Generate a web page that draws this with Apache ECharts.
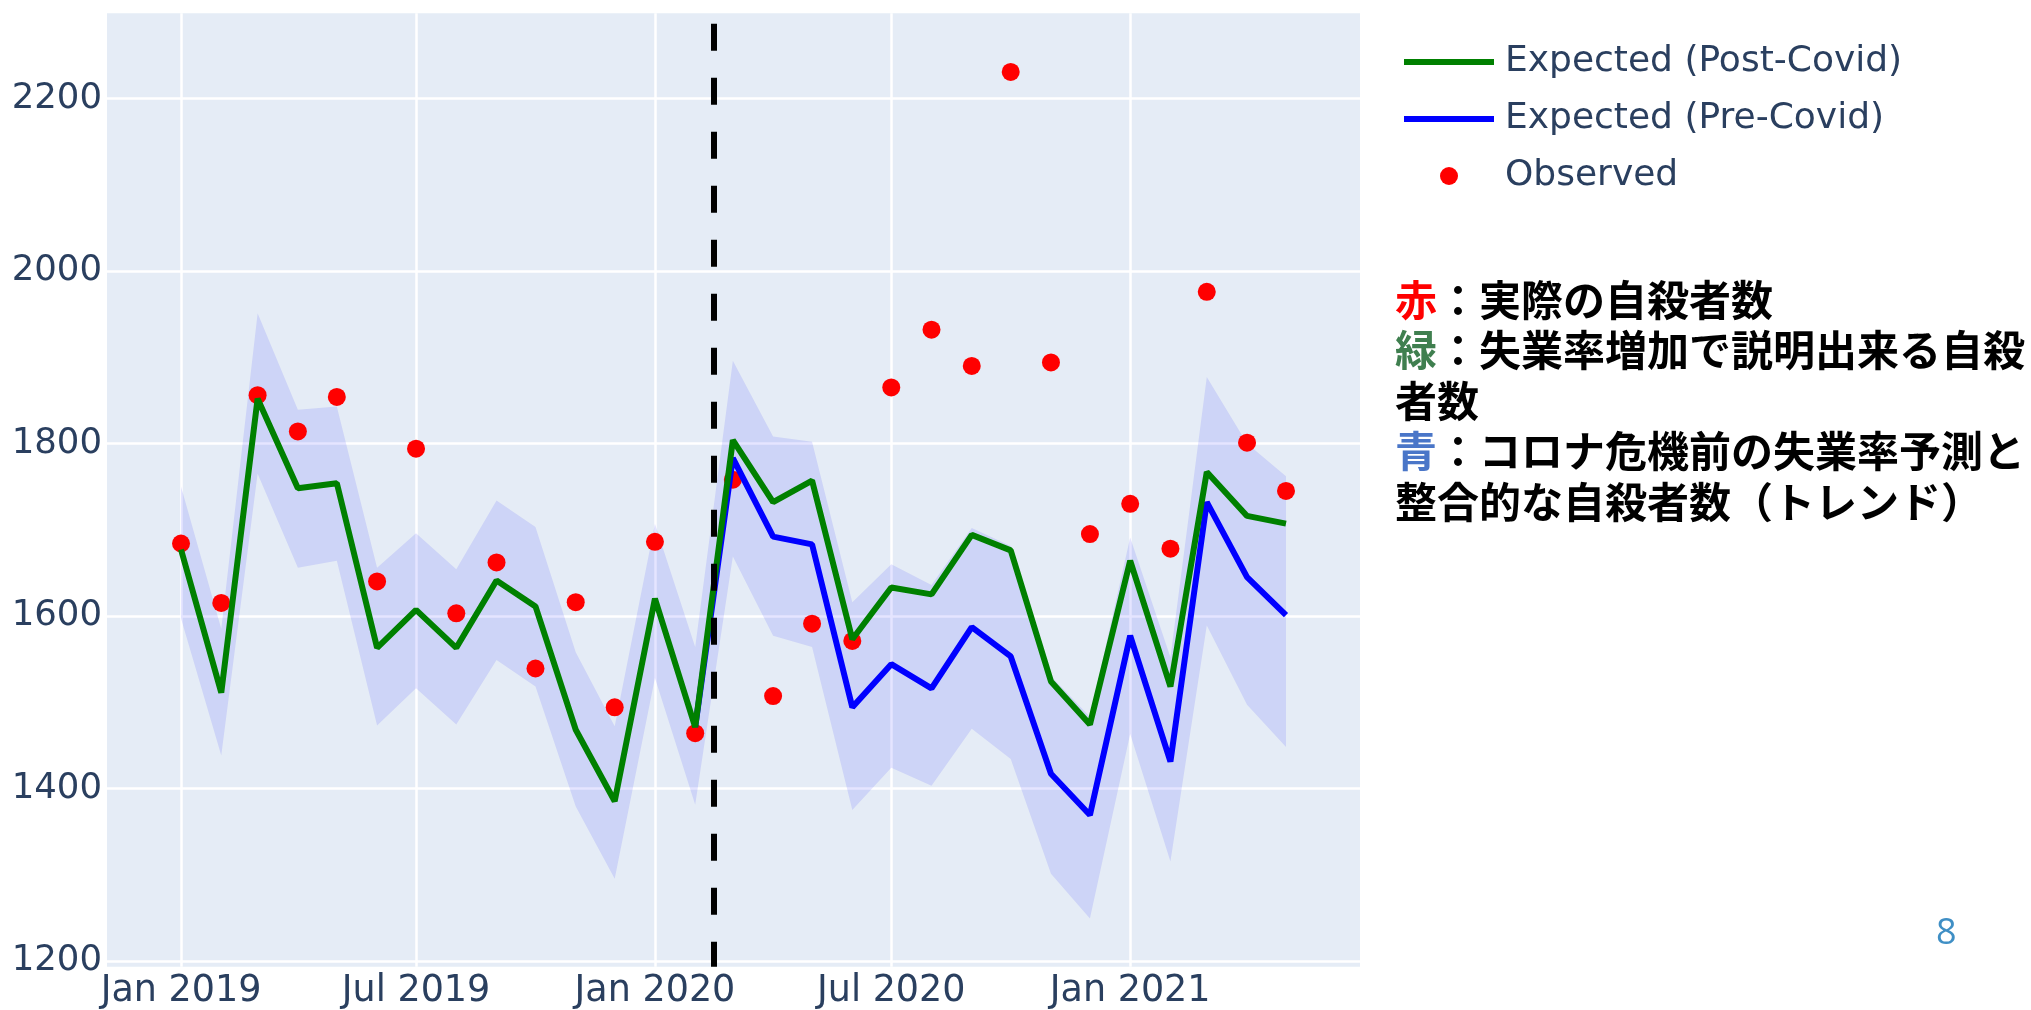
<!DOCTYPE html>
<html>
<head>
<meta charset="utf-8">
<script src="https://cdn.jsdelivr.net/npm/echarts@6/dist/echarts.min.js"></script>
<style>
html,body{margin:0;padding:0;background:#fff;}
#chart{width:2031px;height:1010px;}
</style>
</head>
<body>
<div id="chart"></div>
<script>
// ---- Data ----
const months = [
  '2019-01-01','2019-02-01','2019-03-01','2019-04-01','2019-05-01','2019-06-01',
  '2019-07-01','2019-08-01','2019-09-01','2019-10-01','2019-11-01','2019-12-01',
  '2020-01-01','2020-02-01','2020-03-01','2020-04-01','2020-05-01','2020-06-01',
  '2020-07-01','2020-08-01','2020-09-01','2020-10-01','2020-11-01','2020-12-01',
  '2021-01-01','2021-02-01','2021-03-01','2021-04-01','2021-05-01'
];
const observed = [
  1684, 1615, 1856, 1814, 1854, 1640, 1794, 1603, 1662, 1539, 1616, 1494,
  1686, 1464, 1758, 1507, 1591, 1571, 1865, 1932, 1890, 2231, 1894, 1695,
  1730, 1678, 1976, 1801, 1745
];
const expectedPost = [
  1677, 1511, 1852, 1748, 1754, 1563, 1607, 1563, 1641, 1611, 1468, 1385,
  1620, 1471, 1804, 1732, 1757, 1573, 1633, 1625, 1694, 1676, 1524, 1474,
  1664, 1518, 1767, 1716, 1707
];
const expectedPre = [
  null, null, null, null, null, null, null, null, null, null, null, null,
  null, 1471, 1783, 1692, 1683, 1494, 1544, 1516, 1587, 1553, 1417, 1369,
  1577, 1431, 1732, 1645, 1601
];
const bandUpper = [
  1750, 1585, 1951, 1839, 1843, 1656, 1696, 1654, 1734, 1703, 1558, 1472,
  1707, 1564, 1896, 1808, 1802, 1616, 1660, 1636, 1702, 1681, 1530, 1483,
  1691, 1552, 1877, 1800, 1762
];
const bandLower = [
  1597, 1438, 1765, 1656, 1664, 1473, 1516, 1474, 1549, 1518, 1379, 1295,
  1528, 1381, 1669, 1577, 1564, 1375, 1424, 1403, 1469, 1434, 1301, 1249,
  1463, 1315, 1589, 1497, 1448
];
const covidStart = '2020-02-15';
const xRange = ['2018-11-05', '2021-06-27'];
const xTickValues = ['2019-01-01','2019-07-01','2020-01-01','2020-07-01','2021-01-01'];
const xTickLabels = ['Jan 2019','Jul 2019','Jan 2020','Jul 2020','Jan 2021'];
const yTickValues = [1200, 1400, 1600, 1800, 2000, 2200];
const seriesNames = ['Expected (Post-Covid)', 'Expected (Pre-Covid)', 'Observed'];

// ---- Chart ----
const ts = (s) => { const p = s.split('-'); return Date.UTC(+p[0], +p[1] - 1, +p[2]); };
const chart = echarts.init(document.getElementById('chart'), null, {renderer: 'canvas'});
const pair = (arr) => months.map((m, i) => [ts(m), arr[i]]);
const xTickTs = xTickValues.map(ts);
const tickLabelMap = {};
xTickTs.forEach((t, i) => { tickLabelMap[t] = xTickLabels[i]; });
const tickFont = '"DejaVu Sans", Verdana, sans-serif';
const tickColor = '#2a3f5f';
const jp = '"Noto Sans CJK JP", sans-serif';

const bandItem = [[ts(months[0]), bandUpper[0]]];

const option = {
  animation: false,
  backgroundColor: '#ffffff',
  grid: {
    left: 107, right: 671, top: 13.3, bottom: 43.2,
    show: true, backgroundColor: '#E5ECF6', borderWidth: 0,
    containLabel: false
  },
  xAxis: {
    type: 'value',
    min: ts(xRange[0]),
    max: ts(xRange[1]),
    axisLine: {show: false},
    axisTick: {show: false, customValues: xTickTs},
    axisLabel: {
      customValues: xTickTs,
      margin: 6,
      fontFamily: tickFont, fontSize: 36.5, color: tickColor,
      formatter: (v) => tickLabelMap[v] || ''
    },
    splitLine: {show: true, lineStyle: {color: '#ffffff', width: 2.5}}
  },
  yAxis: {
    type: 'value',
    min: 1193, max: 2299,
    axisLine: {show: false},
    axisTick: {show: false, customValues: yTickValues},
    axisLabel: {
      customValues: yTickValues,
      margin: 5,
      fontFamily: tickFont, fontSize: 35.5, color: tickColor,
      formatter: (v) => String(v)
    },
    splitLine: {show: true, lineStyle: {color: '#ffffff', width: 2.5}}
  },
  legend: {
    orient: 'vertical',
    left: 1399, top: 37,
    itemWidth: 90, itemHeight: 18, itemGap: 17,
    symbolKeepAspect: true,
    textStyle: {fontFamily: tickFont, fontSize: 36, color: tickColor, lineHeight: 40, padding: [0, 0, 0, 6]},
    data: [
      {name: seriesNames[0], icon: 'path://M0,0H90V6H0Z'},
      {name: seriesNames[1], icon: 'path://M0,0H90V6H0Z'},
      {name: seriesNames[2], icon: 'circle', itemStyle: {opacity: 1}}
    ],
    selectedMode: false
  },
  series: [
    {
      name: 'band', type: 'custom', coordinateSystem: 'cartesian2d',
      data: bandItem, silent: true, z: 1, clip: true,
      renderItem: function (params, api) {
        const pts = [];
        for (let i = 0; i < months.length; i++) pts.push(api.coord([ts(months[i]), bandUpper[i]]));
        for (let i = months.length - 1; i >= 0; i--) pts.push(api.coord([ts(months[i]), bandLower[i]]));
        return {type: 'polygon', shape: {points: pts}, style: {fill: 'rgba(0,0,255,0.1)'}};
      }
    },
    {
      name: seriesNames[2], type: 'scatter', data: pair(observed),
      symbol: 'circle', symbolSize: 18, itemStyle: {color: '#ff0000', opacity: 1}, z: 2
    },
    {
      name: seriesNames[1], type: 'line', data: pair(expectedPre),
      symbol: 'none', lineStyle: {color: '#0000ff', width: 6}, itemStyle: {color: '#0000ff'}, z: 3
    },
    {
      name: seriesNames[0], type: 'line', data: pair(expectedPost),
      symbol: 'none', lineStyle: {color: '#008000', width: 6}, itemStyle: {color: '#008000'}, z: 4
    },
    {
      name: 'covid', type: 'line', data: [], z: 5, silent: true,
      markLine: {
        silent: true, symbol: 'none', label: {show: false},
        lineStyle: {color: '#000000', width: 6, type: [27, 27], dashOffset: 2},
        data: [{xAxis: ts(covidStart)}]
      }
    }
  ],
  graphic: [
    {
      type: 'text', left: 1395, top: 279,
      style: {
        text: '{r|赤}{k|：実際の自殺者数}\n{g|緑}{k|：失業率増加で説明出来る自殺}\n{k|者数}\n{b|青}{k|：コロナ危機前の失業率予測と}\n{k|整合的な自殺者数（トレンド）}',
        rich: {
          r: {fontFamily: jp, fontSize: 42, fontWeight: 'bold', lineHeight: 50.5, fill: '#ff0000'},
          g: {fontFamily: jp, fontSize: 42, fontWeight: 'bold', lineHeight: 50.5, fill: '#3f7f4f'},
          b: {fontFamily: jp, fontSize: 42, fontWeight: 'bold', lineHeight: 50.5, fill: '#4a76c8'},
          k: {fontFamily: jp, fontSize: 42, fontWeight: 'bold', lineHeight: 50.5, fill: '#000000'}
        }
      }
    },
    {
      type: 'text', left: 1936, top: 916,
      style: {text: '8', fontFamily: '"Open Sans", sans-serif', fontSize: 36, fill: '#3f8fc5'}
    }
  ]
};
chart.setOption(option);
</script>
</body>
</html>
